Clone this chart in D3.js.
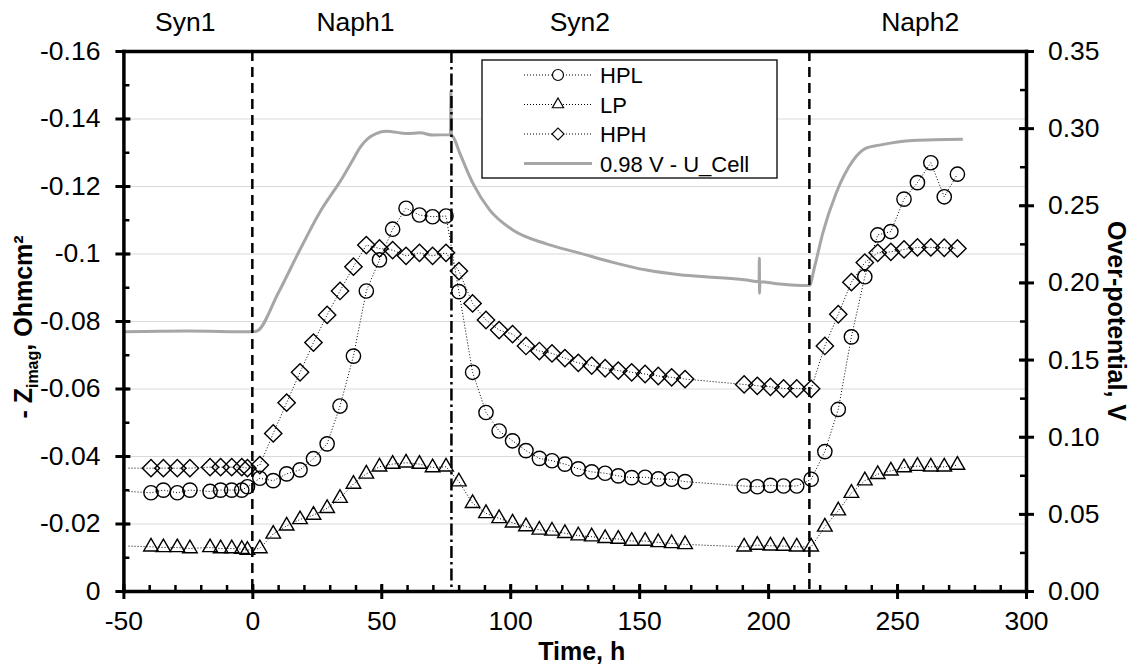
<!DOCTYPE html>
<html>
<head>
<meta charset="utf-8">
<script src="https://cdn.jsdelivr.net/npm/d3@7"></script>
<style>
    body { margin: 0; background: #fff; }
    svg { display: block; font-family: "Liberation Sans", Arial, sans-serif; }
</style>
</head>
<body>
<div id="chart"></div>
<script>
// Sampling times (h) shared by the three impedance series.
// The first entry only starts the dotted line, it has no marker.
const times = [
    -48, -39.3, -34.5, -29.1, -24.2, -16.4, -12.3, -8.0, -4.1, -1.9,
    2.9, 8.1, 13.3, 18.5, 23.7, 29.0, 34.0, 39.2, 44.2, 49.3, 54.4, 59.6, 64.8, 69.9, 75.1,
    80.1, 85.4, 90.6, 95.7, 100.9, 106.1, 111.3, 116.2, 121.2, 126.4, 131.6, 136.8, 141.9, 147.1,
    152.3, 157.4, 162.6, 167.8, 190.7, 195.8, 200.9, 206.0, 211.1,
    216.7, 222.0, 227.2, 232.3, 237.5, 242.5, 247.6, 252.7, 257.9, 263.1, 268.3, 273.4
];

const hpl = [
    -0.0295, -0.0291, -0.0299, -0.0291, -0.0299, -0.0295, -0.0299, -0.0299, -0.0299, -0.0309,
    -0.0334, -0.0327, -0.0347, -0.0359, -0.0392, -0.0436, -0.0548, -0.0696, -0.0889, -0.0981, -0.1072, -0.1134, -0.1114, -0.1109, -0.1111,
    -0.0887, -0.0648, -0.0529, -0.0474, -0.0445, -0.0416, -0.0393, -0.0386, -0.0376, -0.0362, -0.0353, -0.0349, -0.0341, -0.0336,
    -0.0337, -0.0332, -0.0331, -0.0324, -0.0311, -0.0309, -0.0313, -0.0311, -0.0311,
    -0.0331, -0.0413, -0.0538, -0.0753, -0.0931, -0.1055, -0.1065, -0.1161, -0.1210, -0.1269, -0.1168, -0.1235
];

const lp = [
    -0.0133, -0.0131, -0.0129, -0.0129, -0.0126, -0.0129, -0.0126, -0.0126, -0.0124, -0.0121,
    -0.0126, -0.0169, -0.0193, -0.0212, -0.0225, -0.0245, -0.0275, -0.0317, -0.0347, -0.0368, -0.0376, -0.0380, -0.0376, -0.0366, -0.0368,
    -0.0324, -0.0260, -0.0230, -0.0215, -0.0202, -0.0191, -0.0181, -0.0178, -0.0171, -0.0164, -0.0161, -0.0156, -0.0154, -0.0148,
    -0.0148, -0.0144, -0.0141, -0.0138, -0.0131, -0.0136, -0.0134, -0.0133, -0.0131,
    -0.0131, -0.0190, -0.0238, -0.0290, -0.0327, -0.0346, -0.0356, -0.0366, -0.0370, -0.0368, -0.0368, -0.0373
];

const hph = [
    -0.0364, -0.0364, -0.0364, -0.0364, -0.0364, -0.0367, -0.0367, -0.0367, -0.0367, -0.0364,
    -0.0373, -0.0467, -0.0558, -0.0648, -0.0736, -0.0818, -0.0889, -0.0961, -0.1025, -0.1015, -0.1010, -0.0993, -0.1002, -0.0993, -0.1002,
    -0.0948, -0.0852, -0.0803, -0.0773, -0.0761, -0.0726, -0.0711, -0.0704, -0.0690, -0.0676, -0.0668, -0.0660, -0.0653, -0.0648,
    -0.0643, -0.0637, -0.0633, -0.0628, -0.0612, -0.0608, -0.0605, -0.0600, -0.0600,
    -0.0599, -0.0726, -0.0820, -0.0915, -0.0973, -0.1002, -0.1005, -0.1012, -0.1018, -0.1018, -0.1017, -0.1015
];

// 0.98 V - U_Cell trace (right axis)
const cellTime = [
    -50, -25, 0, 1.8, 10, 18.4, 26, 35, 38.5, 42, 45, 48, 52, 60, 65, 70, 76.8, 77.0, 77.2, 78,
    80.4, 85.6, 92, 101, 114, 127, 139.8, 152.8, 165.7, 178.6, 191.5, 196.5, 196.6, 196.7, 196.8,
    204.5, 216, 218, 221.2, 226.4, 232.9, 238, 243.2, 256.1, 275.5
];
const cellVolt = [
    0.168, 0.1685, 0.168, 0.1685, 0.193, 0.221, 0.245, 0.268, 0.278, 0.288, 0.2935, 0.2965, 0.298, 0.2965, 0.297, 0.2955, 0.2958, 0.3236, 0.2955, 0.294,
    0.284, 0.264, 0.247, 0.234, 0.225, 0.219, 0.213, 0.208, 0.205, 0.2033, 0.2016, 0.2005, 0.2157, 0.193, 0.2005,
    0.199, 0.198, 0.210, 0.232, 0.258, 0.279, 0.287, 0.289, 0.292, 0.2928
];

// Phase boundaries (h) and names
const phaseBounds = [0, 77.2, 216];
const phaseNames = ['Syn1', 'Naph1', 'Syn2', 'Naph2'];
const phaseCenters = [-26, 40, 127, 259];

// Axis ticks
const xTicks = [-50, 0, 50, 100, 150, 200, 250, 300];
const xTickLabels = ['-50', '0', '50', '100', '150', '200', '250', '300'];
const yTicks = [0, -0.02, -0.04, -0.06, -0.08, -0.1, -0.12, -0.14, -0.16];
const yTickLabels = ['0', '-0.02', '-0.04', '-0.06', '-0.08', '-0.1', '-0.12', '-0.14', '-0.16'];
const yRTicks = [0, 0.05, 0.10, 0.15, 0.20, 0.25, 0.30, 0.35];
const yRTickLabels = ['0.00', '0.05', '0.10', '0.15', '0.20', '0.25', '0.30', '0.35'];

const legendNames = ['HPL', 'LP', 'HPH', '0.98 V - U_Cell'];

const W = 1137, H = 667;
const margin = {top: 51, right: 111, bottom: 76, left: 123.4};
const width = W - margin.left - margin.right;
const height = H - margin.top - margin.bottom;
const FONT = '"Liberation Sans", Arial, sans-serif';
const FS = 26.5;

const svg = d3.select('#chart').append('svg')
    .attr('width', W)
    .attr('height', H);

svg.append('rect').attr('width', W).attr('height', H).attr('fill', '#fff');

const g = svg.append('g')
    .attr('transform', `translate(${margin.left},${margin.top})`);

const x = d3.scaleLinear().domain([-50, 300]).range([0, width]);
const y = d3.scaleLinear().domain([0, -0.16]).range([height, 0]);
const yR = d3.scaleLinear().domain([0, 0.35]).range([height, 0]);

// Gridlines
g.append('g')
    .call(d3.axisLeft(y).tickValues(yTicks.slice(1, -1)).tickSize(-width).tickFormat(''))
    .call(a => a.select('.domain').remove())
    .selectAll('line')
    .attr('stroke', '#d9d9d9')
    .attr('stroke-width', 1.2);

// Cell voltage trace
const cellLine = d3.line()
    .x(d => x(d[0]))
    .y(d => yR(d[1]))
    .curve(d3.curveMonotoneX);

g.append('path')
    .datum(cellTime.map((t, i) => [t, cellVolt[i]]))
    .attr('d', cellLine)
    .attr('fill', 'none')
    .attr('stroke', '#a6a6a6')
    .attr('stroke-width', 3);

// Phase boundaries
g.selectAll('.phase-line')
    .data(phaseBounds)
    .enter().append('line')
    .attr('class', 'phase-line')
    .attr('x1', d => x(d))
    .attr('x2', d => x(d))
    .attr('y1', 0)
    .attr('y2', height)
    .attr('stroke', '#000')
    .attr('stroke-width', 2.5)
    .attr('stroke-dasharray', (d, i) => i === 1 ? '12,4,2.5,4' : '10,6');

// Impedance series
const series = [
    {name: 'HPL', values: hpl, symbol: d3.symbolCircle, size: 160, rotate: 0},
    {name: 'LP', values: lp, symbol: d3.symbolTriangle, size: 92, rotate: 0},
    {name: 'HPH', values: hph, symbol: d3.symbolSquare, size: 150, rotate: 45}
];

const seriesLine = d3.line()
    .x((d, i) => x(times[i]))
    .y(d => y(d));

series.forEach(s => {
    g.append('path')
        .datum(s.values)
        .attr('d', seriesLine)
        .attr('fill', 'none')
        .attr('stroke', '#000')
        .attr('stroke-width', 1)
        .attr('stroke-dasharray', '1,2');

    g.selectAll(null)
        .data(s.values.slice(1))
        .enter().append('path')
        .attr('d', d3.symbol().type(s.symbol).size(s.size))
        .attr('transform', (d, i) => `translate(${x(times[i + 1])},${y(d)}) rotate(${s.rotate})`)
        .attr('fill', 'none')
        .attr('stroke', '#000')
        .attr('stroke-width', 1.4);
});

// Axes
function styleAxis(a) {
    a.attr('font-size', FS).attr('font-family', FONT);
    a.select('.domain').attr('stroke-width', 3.5).attr('stroke-linecap', 'square');
    a.selectAll('.tick line').attr('stroke-width', 3);
    a.selectAll('.tick text').attr('fill', '#000');
}

// minor ticks first, inside the frame
g.append('g')
    .attr('transform', `translate(0,${height})`)
    .call(d3.axisBottom(x).tickValues(d3.range(-50, 301, 10)).tickSize(-6).tickFormat(''))
    .call(a => a.select('.domain').remove())
    .selectAll('line').attr('stroke-width', 2.5);

g.append('g')
    .call(d3.axisLeft(y).tickValues(d3.range(0, -0.161, -0.01)).tickSize(-6).tickFormat(''))
    .call(a => a.select('.domain').remove())
    .selectAll('line').attr('stroke-width', 2.5);

g.append('g')
    .attr('transform', `translate(${width},0)`)
    .call(d3.axisRight(yR).tickValues(d3.range(0, 0.351, 0.025)).tickSize(-6).tickFormat(''))
    .call(a => a.select('.domain').remove())
    .selectAll('line').attr('stroke-width', 2.5);

// major ticks cross the axis line
g.append('g')
    .attr('transform', `translate(0,${height})`)
    .call(d3.axisBottom(x).tickValues(xTicks).tickSizeInner(8).tickSizeOuter(0).tickPadding(12)
        .tickFormat((d, i) => xTickLabels[i]))
    .call(styleAxis)
    .call(a => a.selectAll('.tick line').attr('y1', -7));

g.append('g')
    .call(d3.axisLeft(y).tickValues(yTicks).tickSizeInner(8).tickSizeOuter(0).tickPadding(15)
        .tickFormat((d, i) => yTickLabels[i]))
    .call(styleAxis)
    .call(a => a.selectAll('.tick line').attr('x1', 7));

g.append('g')
    .attr('transform', `translate(${width},0)`)
    .call(d3.axisRight(yR).tickValues(yRTicks).tickSizeInner(8).tickSizeOuter(0).tickPadding(14)
        .tickFormat((d, i) => yRTickLabels[i]))
    .call(styleAxis)
    .call(a => a.selectAll('.tick line').attr('x1', -7));

// top frame
g.append('g')
    .call(d3.axisTop(x).tickValues([]).tickSizeOuter(0))
    .call(styleAxis);

// Phase names
g.selectAll('.phase-name')
    .data(phaseNames)
    .enter().append('text')
    .attr('class', 'phase-name')
    .attr('x', (d, i) => x(phaseCenters[i]))
    .attr('y', -20)
    .attr('text-anchor', 'middle')
    .attr('font-size', FS)
    .text(d => d);

// Axis titles
svg.append('text')
    .attr('x', margin.left + width / 2 + 7)
    .attr('y', 660)
    .attr('text-anchor', 'middle')
    .attr('font-size', 25)
    .attr('font-weight', 'bold')
    .text('Time, h');

const yTitle = svg.append('text')
    .attr('transform', `translate(32,${margin.top + height / 2 + 6}) rotate(-90)`)
    .attr('text-anchor', 'middle')
    .attr('font-size', 25)
    .attr('font-weight', 'bold');
yTitle.append('tspan').text('- Z');
yTitle.append('tspan').attr('font-size', 16).attr('dy', 6).text('imag');
yTitle.append('tspan').attr('dy', -6).text(', Ohmcm²');

svg.append('text')
    .attr('transform', `translate(1108,${margin.top + height / 2}) rotate(90)`)
    .attr('text-anchor', 'middle')
    .attr('font-size', 25)
    .attr('font-weight', 'bold')
    .text('Over-potential, V');

// Legend
const legend = svg.append('g').attr('transform', 'translate(482,60)');
legend.append('rect')
    .attr('width', 295)
    .attr('height', 118)
    .attr('fill', '#fff')
    .attr('stroke', '#000')
    .attr('stroke-width', 1.3);

const legendSymbols = [
    {symbol: d3.symbolCircle, size: 95, rotate: 0},
    {symbol: d3.symbolTriangle, size: 55, rotate: 0},
    {symbol: d3.symbolSquare, size: 72, rotate: 45},
    null
];

legendNames.forEach((name, i) => {
    const row = legend.append('g').attr('transform', `translate(0,${15 + i * 29.5})`);
    const sym = legendSymbols[i];
    row.append('line')
        .attr('x1', 42).attr('x2', 110)
        .attr('stroke', sym ? '#000' : '#a6a6a6')
        .attr('stroke-width', sym ? 1 : 3)
        .attr('stroke-dasharray', sym ? '1,2' : null);
    if (sym) {
        row.append('path')
            .attr('d', d3.symbol().type(sym.symbol).size(sym.size))
            .attr('transform', `translate(76,0) rotate(${sym.rotate})`)
            .attr('fill', '#fff')
            .attr('stroke', '#000')
            .attr('stroke-width', 1.2);
    }
    row.append('text')
        .attr('x', 118)
        .attr('y', 8)
        .attr('font-size', 22)
        .text(name);
});
</script>
</body>
</html>
